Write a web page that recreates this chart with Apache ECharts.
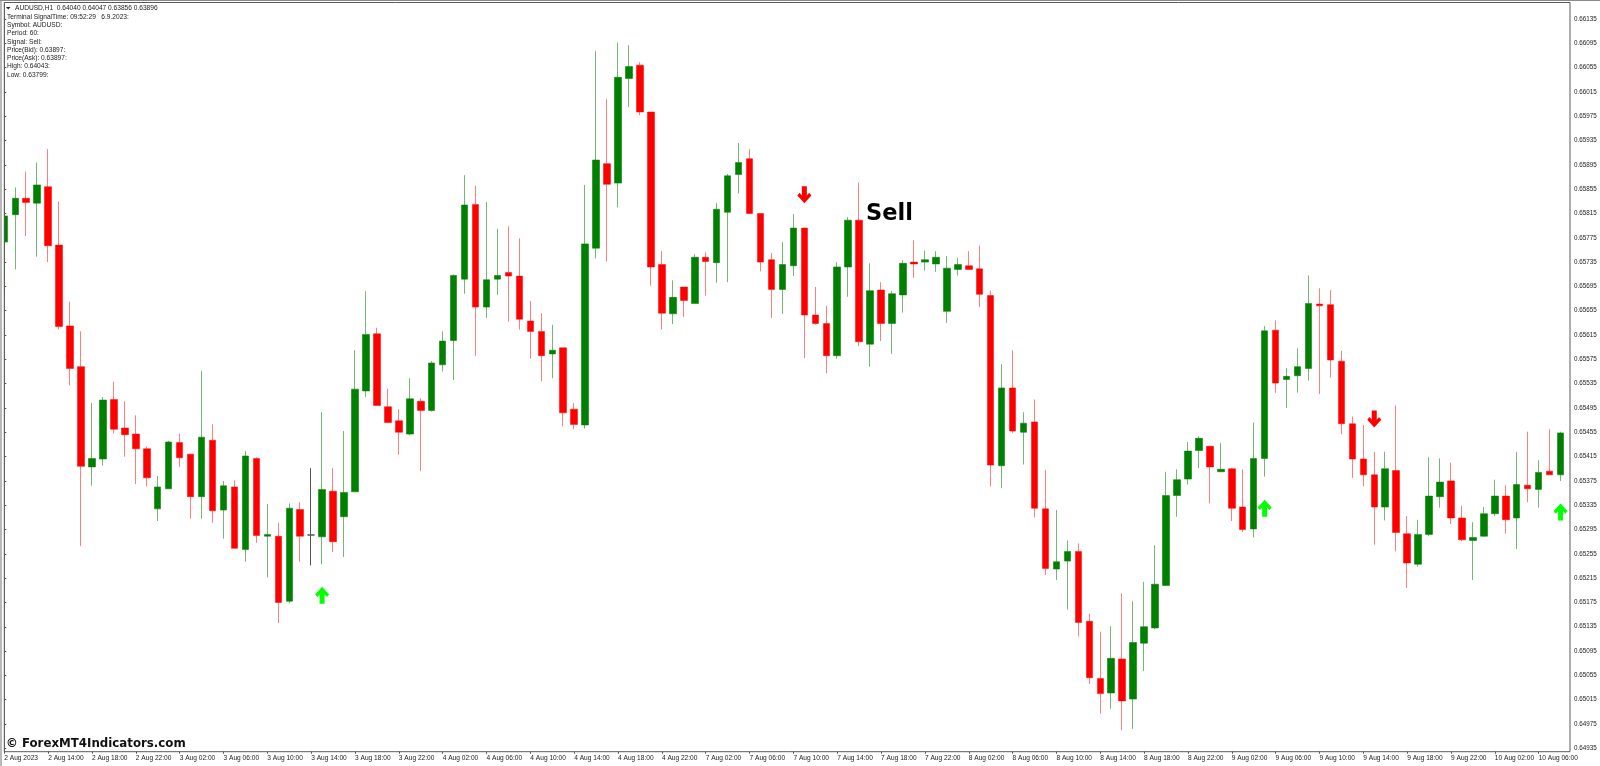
<!DOCTYPE html>
<html>
<head>
<meta charset="utf-8">
<title>AUDUSD H1</title>
<style>
  html, body { margin: 0; padding: 0; background: #fff; overflow: hidden; }
  #main { width: 1600px; height: 766px; }
</style>
</head>
<body>
<div id="main"></div>
<script src="https://cdn.jsdelivr.net/npm/echarts@6/dist/echarts.min.js"></script>
<script>
// hourly candles, 2 Aug 10:00 to 10 Aug 08:00
var opens = [
  0.65768,0.65813,0.65840,0.65832,0.65859,0.65763,0.65630,0.65563,0.65398,0.65411,
  0.65509,0.65462,0.65452,0.65428,0.65329,0.65362,0.65438,0.65419,0.65349,0.65442,
  0.65327,0.65365,0.65262,0.65412,0.65284,0.65284,0.65177,0.65328,0.65286,0.65283,
  0.65358,0.65316,0.65357,0.65523,0.65617,0.65497,0.65474,0.65452,0.65506,0.65491,
  0.65566,0.65606,0.65707,0.65830,0.65661,0.65707,0.65718,0.65712,0.65638,0.65621,
  0.65584,0.65594,0.65493,0.65467,0.65758,0.65897,0.65865,0.66037,0.66059,0.65982,
  0.65731,0.65650,0.65694,0.65667,0.65743,0.65734,0.65817,0.65879,0.65905,0.65815,
  0.65739,0.65690,0.65729,0.65791,0.65648,0.65634,0.65581,0.65727,0.65804,0.65600,
  0.65689,0.65634,0.65681,0.65735,0.65735,0.65732,0.65654,0.65723,0.65729,0.65724,
  0.65680,0.65400,0.65528,0.65455,0.65472,0.65329,0.65230,0.65243,0.65259,0.65144,
  0.65050,0.65026,0.65082,0.65016,0.65108,0.65133,0.65203,0.65351,0.65378,0.65425,
  0.65432,0.65390,0.65395,0.65332,0.65296,0.65412,0.65623,0.65542,0.65548,0.65560,
  0.65666,0.65665,0.65572,0.65469,0.65411,0.65385,0.65332,0.65392,0.65288,0.65238,
  0.65287,0.65349,0.65375,0.65314,0.65277,0.65284,0.65321,0.65350,0.65314,0.65368,
  0.65361,0.65391,0.65385
];
var highs = [
  0.65834,0.65858,0.65884,0.65899,0.65921,0.65835,0.65670,0.65621,0.65503,0.65513,
  0.65538,0.65506,0.65483,0.65432,0.65383,0.65441,0.65453,0.65420,0.65556,0.65468,
  0.65375,0.65376,0.65424,0.65414,0.65337,0.65306,0.65338,0.65340,0.65396,0.65488,
  0.65396,0.65457,0.65590,0.65687,0.65627,0.65527,0.65493,0.65544,0.65511,0.65572,
  0.65621,0.65715,0.65878,0.65861,0.65834,0.65790,0.65794,0.65774,0.65671,0.65651,
  0.65632,0.65594,0.65503,0.65862,0.66082,0.66003,0.66096,0.66092,0.66064,0.65982,
  0.65753,0.65705,0.65694,0.65748,0.65751,0.65832,0.65880,0.65931,0.65921,0.65815,
  0.65750,0.65768,0.65814,0.65792,0.65694,0.65663,0.65735,0.65809,0.65866,0.65733,
  0.65702,0.65687,0.65738,0.65771,0.65754,0.65753,0.65745,0.65742,0.65753,0.65762,
  0.65688,0.65567,0.65590,0.65488,0.65509,0.65393,0.65327,0.65277,0.65272,0.65156,
  0.65127,0.65136,0.65190,0.65177,0.65209,0.65269,0.65390,0.65394,0.65439,0.65448,
  0.65432,0.65437,0.65396,0.65394,0.65471,0.65630,0.65639,0.65561,0.65593,0.65713,
  0.65692,0.65689,0.65589,0.65481,0.65467,0.65423,0.65423,0.65499,0.65317,0.65311,
  0.65414,0.65412,0.65405,0.65334,0.65307,0.65332,0.65377,0.65368,0.65423,0.65456,
  0.65409,0.65460,0.65456
];
var lows = [
  0.65684,0.65723,0.65778,0.65744,0.65735,0.65624,0.65532,0.65268,0.65367,0.65400,
  0.65453,0.65415,0.65370,0.65366,0.65309,0.65362,0.65398,0.65313,0.65313,0.65306,
  0.65280,0.65264,0.65242,0.65273,0.65216,0.65141,0.65174,0.65242,0.65236,0.65238,
  0.65258,0.65250,0.65357,0.65513,0.65499,0.65471,0.65418,0.65450,0.65391,0.65489,
  0.65555,0.65541,0.65683,0.65581,0.65643,0.65681,0.65637,0.65624,0.65576,0.65539,
  0.65544,0.65465,0.65460,0.65461,0.65741,0.65736,0.65825,0.65990,0.65977,0.65696,
  0.65624,0.65633,0.65645,0.65667,0.65680,0.65701,0.65702,0.65848,0.65814,0.65720,
  0.65643,0.65650,0.65712,0.65577,0.65632,0.65552,0.65576,0.65678,0.65597,0.65563,
  0.65605,0.65584,0.65652,0.65709,0.65721,0.65719,0.65635,0.65713,0.65723,0.65661,
  0.65366,0.65363,0.65454,0.65402,0.65315,0.65220,0.65212,0.65163,0.65119,0.65041,
  0.64992,0.65000,0.64965,0.64967,0.65062,0.65131,0.65202,0.65316,0.65369,0.65396,
  0.65338,0.65390,0.65309,0.65291,0.65282,0.65382,0.65520,0.65495,0.65520,0.65540,
  0.65518,0.65545,0.65452,0.65380,0.65366,0.65270,0.65310,0.65259,0.65199,0.65234,
  0.65284,0.65331,0.65304,0.65276,0.65212,0.65283,0.65317,0.65288,0.65263,0.65340,
  0.65331,0.65385,0.65375
];
var closes = [
  0.65811,0.65840,0.65833,0.65862,0.65762,0.65629,0.65560,0.65399,0.65412,0.65508,
  0.65460,0.65451,0.65428,0.65380,0.65365,0.65439,0.65413,0.65349,0.65447,0.65326,
  0.65367,0.65264,0.65416,0.65285,0.65287,0.65175,0.65330,0.65284,0.65286,0.65361,
  0.65275,0.65356,0.65526,0.65616,0.65499,0.65471,0.65455,0.65510,0.65491,0.65569,
  0.65605,0.65713,0.65829,0.65661,0.65706,0.65713,0.65712,0.65641,0.65621,0.65581,
  0.65590,0.65487,0.65468,0.65765,0.65903,0.65863,0.66039,0.66057,0.65982,0.65727,
  0.65651,0.65677,0.65672,0.65743,0.65736,0.65822,0.65877,0.65899,0.65815,0.65735,
  0.65690,0.65731,0.65791,0.65648,0.65634,0.65581,0.65727,0.65804,0.65604,0.65688,
  0.65634,0.65683,0.65733,0.65732,0.65739,0.65743,0.65725,0.65731,0.65723,0.65682,
  0.65401,0.65528,0.65457,0.65470,0.65330,0.65231,0.65242,0.65259,0.65142,0.65051,
  0.65025,0.65083,0.65013,0.65109,0.65135,0.65205,0.65351,0.65377,0.65424,0.65445,
  0.65398,0.65394,0.65330,0.65295,0.65412,0.65622,0.65536,0.65547,0.65563,0.65667,
  0.65663,0.65574,0.65469,0.65411,0.65385,0.65332,0.65395,0.65290,0.65240,0.65287,
  0.65350,0.65373,0.65314,0.65278,0.65282,0.65321,0.65350,0.65311,0.65369,0.65362,
  0.65389,0.65385,0.65454
];

// signal arrows: candle index and price
var buyIndex = [29, 115, 142];
var buyPrice = [0.65187, 0.65330, 0.65324];
var sellIndex = [73, 125];
var sellPrice = [0.65846, 0.65477];

// one time label every 4 candles
var xTickLabels = [
  '2 Aug 2023','2 Aug 14:00','2 Aug 18:00','2 Aug 22:00',
  '3 Aug 02:00','3 Aug 06:00','3 Aug 10:00','3 Aug 14:00','3 Aug 18:00','3 Aug 22:00',
  '4 Aug 02:00','4 Aug 06:00','4 Aug 10:00','4 Aug 14:00','4 Aug 18:00','4 Aug 22:00',
  '7 Aug 02:00','7 Aug 06:00','7 Aug 10:00','7 Aug 14:00','7 Aug 18:00','7 Aug 22:00',
  '8 Aug 02:00','8 Aug 06:00','8 Aug 10:00','8 Aug 14:00','8 Aug 18:00','8 Aug 22:00',
  '9 Aug 02:00','9 Aug 06:00','9 Aug 10:00','9 Aug 14:00','9 Aug 18:00','9 Aug 22:00',
  '10 Aug 02:00','10 Aug 06:00'
];
var yTicks = [
  0.66135,0.66095,0.66055,0.66015,0.65975,0.65935,0.65895,0.65855,0.65815,0.65775,0.65735,
  0.65695,0.65655,0.65615,0.65575,0.65535,0.65495,0.65455,0.65415,0.65375,0.65335,
  0.65295,0.65255,0.65215,0.65175,0.65135,0.65095,0.65055,0.65015,0.64975,0.64935
];

var headerLine = 'AUDUSD,H1  0.64040 0.64047 0.63856 0.63896';
var infoLines = [
  'Terminal SignalTime: 09:52:29   6.9.2023:',
  'Symbol: AUDUSD:',
  'Period: 60:',
  'Signal: Sell:',
  'Price(Bid): 0.63897:',
  'Price(Ask): 0.63897:',
  'High: 0.64043:',
  'Low: 0.63799:'
];

var smallFont = '"Liberation Sans", Arial, sans-serif';
var arrowPath = 'path://M7 0L14 7.5L11.8 10L9.5 7.5V16.5H4.5V7.5L2.2 10L0 7.5Z';

var candles = opens.map(function (o, i) {
  return [i, o, closes[i], lows[i], highs[i]];
});
var xTickValues = xTickLabels.map(function (_, i) { return i * 4; });

function pairs(xs, ys) {
  return xs.map(function (x, i) { return [x, ys[i]]; });
}

var graphics = [
  // first candle is cut by the chart's left edge, candlestick does not clip it
  { type: 'rect', z: 10, shape: { x: 0, y: 0, width: 4, height: 766 }, style: { fill: '#fff' } },
  // outer window frame
  { type: 'line', z: 11, shape: { x1: 1, y1: 0, x2: 1, y2: 766 }, style: { stroke: '#8a8a8a', lineWidth: 1.2 } },
  { type: 'line', z: 11, shape: { x1: 0, y1: 0.5, x2: 1600, y2: 0.5 }, style: { stroke: '#8a8a8a', lineWidth: 1 } },
  { type: 'line', z: 11, shape: { x1: 4.3, y1: 2.5, x2: 4.3, y2: 752 }, style: { stroke: '#5a5a5a', lineWidth: 1 } },
  { type: 'polygon', shape: { points: [[6, 7], [10.5, 7], [8.2, 9.6]] }, style: { fill: '#222' } },
  { type: 'text', x: 15, y: 8, style: { text: headerLine, font: '6.6px ' + smallFont, fill: '#222', textVerticalAlign: 'middle' } },
  { type: 'text', x: 866, y: 214.5, z: 20, style: { text: 'Sell', font: 'bold 22.5px "DejaVu Sans", sans-serif', fill: '#000', textVerticalAlign: 'middle' } },
  { type: 'text', x: 6, y: 744, z: 20, style: { text: '© ForexMT4Indicators.com', font: 'bold 11.8px "DejaVu Sans", sans-serif', fill: '#111', textVerticalAlign: 'middle' } }
];
infoLines.forEach(function (line, i) {
  graphics.push({
    type: 'text', x: 7, y: 17 + i * 8.25,
    style: { text: line, font: '6.6px ' + smallFont, fill: '#222', textVerticalAlign: 'middle' }
  });
});

var myChart = echarts.init(document.getElementById('main'));
myChart.setOption({
  animation: false,
  backgroundColor: '#fff',
  grid: {
    show: true, left: 4.3, right: 30, top: 2.5, bottom: 14.3,
    borderColor: '#5a5a5a', borderWidth: 1, backgroundColor: '#fff'
  },
  xAxis: {
    type: 'value', min: 0, max: 142.86,
    splitLine: { show: false },
    axisLine: { show: false },
    axisTick: { show: true, length: 2, lineStyle: { color: '#555' }, customValues: xTickValues },
    axisLabel: {
      customValues: xTickValues, margin: 3, align: 'left',
      fontSize: 6.6, fontFamily: smallFont, color: '#222',
      formatter: function (v) { return xTickLabels[Math.round(v / 4)]; }
    }
  },
  yAxis: {
    type: 'value', position: 'right', min: 0.649294, max: 0.661622,
    splitLine: { show: false },
    axisLine: { show: false },
    axisTick: { show: true, length: 2, lineStyle: { color: '#555' }, customValues: yTicks },
    axisLabel: {
      customValues: yTicks, margin: 4, fontSize: 6.3, fontFamily: smallFont, color: '#222',
      formatter: function (v) { return v.toFixed(5); }
    }
  },
  series: [
    {
      type: 'candlestick',
      data: candles,
      encode: { x: 0, y: [1, 2, 3, 4] },
      barWidth: 7,
      itemStyle: {
        color: '#008000', color0: '#ff0000',
        borderColor: 'rgba(0,128,0,0.55)', borderColor0: 'rgba(255,0,0,0.5)',
        borderColorDoji: '#555', borderWidth: 1
      }
    },
    {
      type: 'scatter', data: pairs(buyIndex, buyPrice), z: 5,
      symbol: arrowPath, symbolSize: [14, 17], itemStyle: { color: '#00ff00', opacity: 1 }
    },
    {
      type: 'scatter', data: pairs(sellIndex, sellPrice), z: 5,
      symbol: arrowPath, symbolSize: [14, 17], symbolRotate: 180, itemStyle: { color: '#ff0000', opacity: 1 }
    }
  ],
  graphic: graphics
});
</script>
</body>
</html>
